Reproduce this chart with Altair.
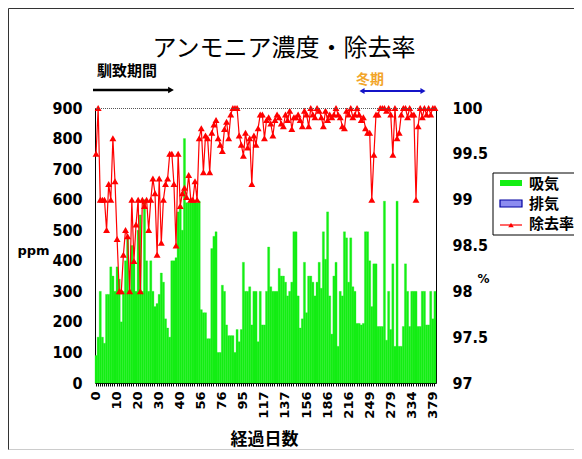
import altair as alt
import pandas as pd

# ---- data ----
tick_labels = ["0", "10", "20", "30", "40", "56", "76", "95", "117", "137",
               "156", "186", "216", "249", "279", "334", "379"]

intake_ppm = [
    90, 150, 300, 150, 130, 290, 290, 380, 350, 300,
    380, 340, 200, 300, 400, 480, 300, 450, 400, 300,
    500, 550, 300, 600, 400, 300, 400, 300, 250, 260,
    290, 360, 330, 210, 180, 150, 400, 400, 410, 560,
    580, 500, 800, 590, 590, 590, 590, 590, 590, 595,
    240, 230, 230, 145, 145, 440, 480, 495, 100, 100,
    320, 300, 190, 155, 155, 155, 100, 175, 135, 175,
    395, 300, 300, 315, 190, 300, 300, 135, 300, 190,
    190, 300, 445, 315, 300, 300, 300, 375, 350, 350,
    330, 285, 300, 330, 495, 495, 285, 180, 210, 395,
    230, 350, 350, 330, 285, 330, 395, 310, 495, 405,
    560, 285, 160, 350, 395, 120, 300, 285, 495, 475,
    330, 475, 315, 300, 195, 195, 190, 195, 495, 495,
    400, 250, 390, 390, 185, 185, 185, 595, 140, 300,
    175, 390, 120, 595, 120, 120, 185, 390, 300, 185,
    300, 300, 300, 185, 185, 300, 300, 190, 190, 300,
    210, 300,
]

removal_pct = [
    99.5, 100, 99.0, 99.0, 99.0, 98.67, 99.17, 99.0, 99.67, 99.2,
    98.57, 98.0, 98.0, 98.4, 98.67, 98.6, 98.0, 99.0, 98.33, 98.73,
    99.0, 98.0, 99.0, 98.93, 99.0, 98.67, 99.0, 99.23, 99.07, 98.4,
    99.23, 98.53, 99.0, 99.17, 99.23, 99.5, 99.5, 99.17, 98.5, 99.5,
    98.93, 99.07, 99.13, 99.03, 99.27, 99.0, 99.0, 99.2, 99.0, 99.67,
    99.78, 99.3, 99.7, 99.67, 99.3, 99.73, 99.82, 99.87, 99.67, 99.6,
    99.53, 99.77, 99.85, 99.67, 99.93, 100, 100, 100, 99.7, 99.6,
    99.48, 99.73, 99.57, 99.67, 99.17, 99.7, 99.6, 99.78, 99.93, 99.93,
    99.67, 99.87, 99.9, 99.83, 99.7, 99.87, 99.93, 99.9, 99.83, 99.8,
    99.93, 99.87, 99.97, 99.77, 99.9, 99.9, 99.93, 99.87, 99.8, 99.97,
    99.93, 99.8, 100, 99.93, 99.9, 100, 99.97, 99.9, 99.8, 99.97,
    99.87, 99.93, 99.9, 99.93, 100, 99.93, 99.9, 99.8, 99.78, 99.97,
    99.93, 100, 99.9, 99.93, 100, 99.93, 99.87, 99.9, 99.78, 99.73,
    99.73, 99.0, 99.49, 99.93, 99.93, 100, 100, 100, 99.97, 100,
    99.93, 99.49, 100, 99.67, 99.73, 99.93, 100, 100, 99.9, 100,
    99.93, 99.93, 99.0, 99.8, 100, 99.9, 100, 99.93, 100, 99.93,
    100, 100,
]

series_names = ["吸気", "排気", "除去率"]
title_text = "アンモニア濃度・除去率"

n = len(intake_ppm)
df = pd.DataFrame({"i": list(range(n)), "intake": intake_ppm, "rate": removal_pct})

W, H = 341, 275
FONT_NUM = "Liberation Sans Narrow, DejaVu Sans Condensed, sans-serif"
FONT_X = "DejaVu Sans"
FONT_JP = "Noto Sans CJK JP"
GREEN = "#14EE14"

label_js = "[" + ",".join("'%s'" % t for t in tick_labels) + "]"

x_enc = alt.X(
    "i:O",
    scale=alt.Scale(paddingInner=0, paddingOuter=0),
    axis=alt.Axis(
        values=list(range(n)),
        labelExpr="datum.value % 10 == 0 ? " + label_js + "[datum.value / 10] : ''",
        labelAngle=270, labelAlign="right", labelBaseline="middle",
        labelPadding=5, labelOverlap=False, labelFont=FONT_X, labelFontSize=13,
        tickSize=3, tickColor="black", tickWidth=1,
        title="経過日数", titleFont=FONT_JP, titleFontSize=17, titleFontWeight="bold",
        titleX=169, titleY=56, titleAlign="center", titleBaseline="middle",
    ),
)

bars = alt.Chart(df).mark_bar(color=GREEN, stroke=GREEN, strokeWidth=0.3).encode(
    x=x_enc,
    y=alt.Y(
        "intake:Q",
        scale=alt.Scale(domain=[0, 900], nice=False),
        axis=alt.Axis(
            values=list(range(0, 901, 100)), tickSize=0, labelPadding=13,
            title="ppm", titleAngle=0, titleX=-62, titleY=142,
            titleAlign="center", titleBaseline="middle", titleFontSize=13,
            titleFont=FONT_X, titleFontWeight="bold",
        ),
    ),
)

line = alt.Chart(df).mark_line(
    color="#FF0000", strokeWidth=1.2,
    point=alt.OverlayMarkDef(shape="triangle-up", filled=True, size=48, color="#FF0000"),
).encode(
    x=x_enc,
    y=alt.Y(
        "rate:Q",
        scale=alt.Scale(domain=[97, 100], nice=False, zero=False),
        axis=alt.Axis(
            orient="right", values=[97, 97.5, 98, 98.5, 99, 99.5, 100], format="~g",
            tickSize=0, labelPadding=16,
            title="%", titleAngle=0, titleX=47, titleY=170,
            titleAlign="center", titleBaseline="middle", titleFontSize=12,
            titleFont=FONT_X, titleFontWeight="bold",
        ),
    ),
)

one = alt.Data(values=[{"a": 1}])


def rule(x1, x2, y1, y2, color="black", width=1, dash=None):
    kw = dict(color=color, strokeWidth=width)
    if dash:
        kw["strokeDash"] = dash
    return alt.Chart(one).mark_rule(**kw).encode(
        x=alt.value(x1), x2=alt.value(x2), y=alt.value(y1), y2=alt.value(y2))


def text(s, x, y, size, color="black", weight="bold", font=FONT_JP, align="center", baseline="alphabetic"):
    return alt.Chart(one).mark_text(
        text=s, font=font, fontSize=size, fontWeight=weight, color=color,
        align=align, baseline=baseline).encode(x=alt.value(x), y=alt.value(y))


def tri(shape, x, y, color, size):
    return alt.Chart(one).mark_point(shape=shape, filled=True, size=size, color=color, opacity=1).encode(
        x=alt.value(x), y=alt.value(y))


def box(x1, x2, y1, y2, fill, stroke=None, sw=1):
    kw = dict(fill=fill)
    if stroke:
        kw.update(stroke=stroke, strokeWidth=sw)
    return alt.Chart(one).mark_rect(**kw).encode(
        x=alt.value(x1), x2=alt.value(x2), y=alt.value(y1), y2=alt.value(y2))


annots = [
    # chart border
    rule(-86.5, 480, -99.5, -99.5, "#333333", 1),
    rule(-86.5, -86.5, -99.5, 342, "#333333", 1),
    rule(-86.5, 480, 341.5, 341.5, "#CCCCCC", 1),
    # dotted top of plot area
    rule(0, W, 0.5, 0.5, "#555555", 1, [1, 1]),
    # title and period annotations
    text(title_text, 189, -52, 24, weight="normal"),
    text("馴致期間", 32, -32, 15),
    rule(-2, 74, -18, -18, "black", 2.5),
    tri("triangle-right", 76, -18, "black", 45),
    text("冬期", 275, -24, 14, color="#F2A52A"),
    rule(268, 327, -17, -17, "#1414C8", 2),
    tri("triangle-left", 267, -17, "#1414C8", 35),
    tri("triangle-right", 328, -17, "#1414C8", 35),
    # legend
    box(398, 500, 65, 127, "white", "black", 1),
    box(405, 427, 72, 78, GREEN),
    box(405, 427, 92, 99, "#8C8CF0", "#0000A0", 1.2),
    rule(405, 427, 117, 117, "#FF0000", 1.2),
    tri("triangle-up", 416, 117, "#FF0000", 30),
    text(series_names[0], 434, 76, 15, align="left", baseline="middle"),
    text(series_names[1], 434, 96, 15, align="left", baseline="middle"),
    text(series_names[2], 434, 116, 15, align="left", baseline="middle"),
]

chart = alt.layer(bars, line, *annots).resolve_scale(y="independent").properties(
    width=W, height=H,
    autosize=alt.AutoSizeParams(type="none"),
    padding={"left": 87, "top": 100, "right": 138, "bottom": 68},
).configure_view(stroke=None).configure_axis(
    grid=False, domainColor="black", domainWidth=1,
    labelFont=FONT_NUM, labelFontSize=16, labelFontWeight="bold", labelColor="black",
    titleColor="black",
)

chart.save("out.html", embed_options={"renderer": "svg", "actions": False})
